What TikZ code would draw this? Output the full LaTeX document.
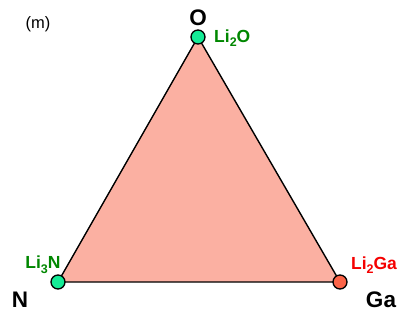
\documentclass[tikz,border=0pt]{standalone}
\usepackage{fontspec}
\setmainfont{Liberation Sans}
\definecolor{tri}{RGB}{251,176,162}
\definecolor{gcirc}{RGB}{20,235,150}
\definecolor{rcirc}{RGB}{252,100,72}
\definecolor{glab}{RGB}{0,135,0}
\definecolor{rlab}{RGB}{245,0,0}
\newcommand{\sbs}[1]{\raisebox{-0.5ex}{\fontsize{12.5}{12}\selectfont\bfseries #1}}
\begin{document}
\begin{tikzpicture}[x=1pt,y=-1pt,
  vert/.style={circle,draw=black,line width=1.3pt,minimum size=14pt,inner sep=0pt},
  elem/.style={font=\fontsize{22.5}{22}\selectfont\bfseries,inner sep=0pt},
  phase/.style={font=\fontsize{17.5}{17}\selectfont\bfseries,inner sep=0pt}]
\useasboundingbox (0,0) rectangle (404,320);
\fill[white] (0,0) rectangle (404,320);
\coordinate (A) at (198,37);
\coordinate (B) at (58,282);
\coordinate (C) at (340,282);
\draw[fill=tri,line width=1.4pt,line join=round] (A) -- (B) -- (C) -- cycle;
\node[vert,fill=gcirc] (vA) at (A) {};
\node[vert,fill=gcirc] (vB) at (B) {};
\node[vert,fill=rcirc] (vC) at (C) {};
\node[font=\fontsize{16.5}{16}\selectfont,inner sep=0pt] (m) at (38,24) {(m)};
\node[elem] (O) at (198,18) {O};
\node[elem] (N) at (20,300) {N};
\node[elem] (Ga) at (381,300) {Ga};
\node[phase,text=glab,anchor=west] (L1) at (214,38) {Li\sbs{2}O};
\node[phase,text=glab] (L2) at (43,265) {Li\sbs{3}N};
\node[phase,text=rlab] (L3) at (374,265) {Li\sbs{2}Ga};
\end{tikzpicture}
\end{document}
